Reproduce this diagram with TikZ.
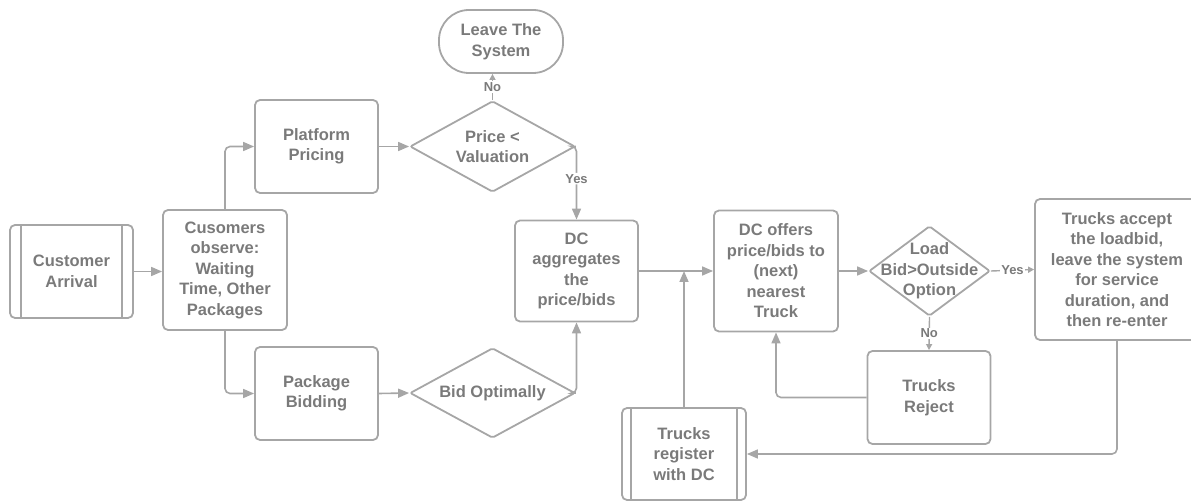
\documentclass[tikz,border=0pt]{standalone}
\usepackage{fontspec}
\setmainfont{Liberation Sans}
\usetikzlibrary{arrows.meta,shapes.geometric}
\definecolor{lc}{HTML}{A6A6A6}
\definecolor{tc}{HTML}{7A7A7A}
\tikzset{
  box/.style={draw=lc, line width=1.8pt, rectangle, rounded corners=5pt, text=tc,
    font=\bfseries\fontsize{16.5}{20.5}\selectfont, align=center, inner sep=0pt},
  dia/.style={draw=lc, line width=1.8pt, diamond, inner sep=0pt, rounded corners=2pt},
  txt/.style={text=tc, font=\bfseries\fontsize{16.5}{20.5}\selectfont, align=center, inner sep=0pt},
  arr/.style={draw=lc, line width=1.6pt, rounded corners=5pt, -{Triangle[length=11pt,width=9pt]}},
  sarr/.style={draw=lc, line width=1.4pt, -{Triangle[length=6pt,width=6pt]}},
  lab/.style={text=tc, font=\bfseries\fontsize{13}{15}\selectfont, fill=white, inner sep=1.2pt}
}
\begin{document}
\begin{tikzpicture}[x=1pt,y=-1pt]
\useasboundingbox (0,0) rectangle (1191,502);
\clip (0,0) rectangle (1191,502);
% nodes
\node[box, minimum width=123, minimum height=93] (ca) at (71.5,271.5) {Customer\\Arrival};
\draw[lc, line width=1.8pt] ([xshift=12pt]ca.north west) -- ([xshift=12pt]ca.south west);
\draw[lc, line width=1.8pt] ([xshift=-12pt]ca.north east) -- ([xshift=-12pt]ca.south east);
\node[box, minimum width=124, minimum height=120] (co) at (225,270) {Cusomers\\observe:\\Waiting\\Time, Other\\Packages};
\node[box, minimum width=123, minimum height=93] (pp) at (316.5,146.5) {Platform\\Pricing};
\node[dia, minimum width=165, minimum height=91] (pv) at (492.5,146.5) {};
\node[txt] at (pv) {Price <\\Valuation};
\node[box, minimum width=124, minimum height=63, rounded corners=30pt] (lv) at (501,41.5) {Leave The\\System};
\node[box, minimum width=123, minimum height=93] (pb) at (316.5,393.5) {Package\\Bidding};
\node[dia, minimum width=165, minimum height=90] (bo) at (492.5,393) {};
\node[txt] at (bo) {Bid Optimally};
\node[box, minimum width=123, minimum height=101] (da) at (576.5,271) {DC\\aggregates\\the\\price/bids};
\node[box, minimum width=124, minimum height=121] (dc) at (776,271) {DC offers\\price/bids to\\(next)\\nearest\\Truck};
\node[dia, minimum width=121, minimum height=90] (ld) at (929.5,271) {};
\node[txt] at (ld) {Load\\Bid>Outside\\Option};
\node[box, minimum width=164, minimum height=141] (ta) at (1117,269.5) {Trucks accept\\the loadbid,\\leave the system\\for service\\duration, and\\then re-enter};
\node[box, minimum width=123, minimum height=93] (rj) at (929,397.5) {Trucks\\Reject};
\node[box, minimum width=124, minimum height=92] (tr) at (684,454) {Trucks\\register\\with DC};
\draw[lc, line width=1.8pt] ([xshift=10pt]tr.north west) -- ([xshift=10pt]tr.south west);
\draw[lc, line width=1.8pt] ([xshift=-10pt]tr.north east) -- ([xshift=-10pt]tr.south east);
% connectors
\draw[arr] (ca.east) -- (ca.east -| co.west);
\draw[arr] (co.north) |- (pp.west);
\draw[arr] (co.south) |- (pb.west);
\draw[arr] (pp.east) -- (pv.west);
\draw[sarr] (pv.north) -- node[lab]{No} (pv.north |- lv.south);
\draw[arr] (pv.east) -| node[lab, pos=0.72]{Yes} (da.north);
\draw[arr] (pb.east) -- (bo.west);
\draw[arr] (bo.east) -| (da.south);
\draw[arr] (da.east) -- (dc.west);
\coordinate (jn) at (tr.north |- da.east);
\draw[arr] (tr.north) -- (jn);
\draw[arr] (dc.east) -- (ld.west);
\draw[sarr] (ld.east) -- node[lab]{Yes} (ta.west);
\draw[sarr] (ld.south) -- node[lab]{No} (rj.north);
\draw[arr] (rj.west) -| (dc.south);
\draw[arr] (ta.south) |- (tr.east);
\end{tikzpicture}
\end{document}
